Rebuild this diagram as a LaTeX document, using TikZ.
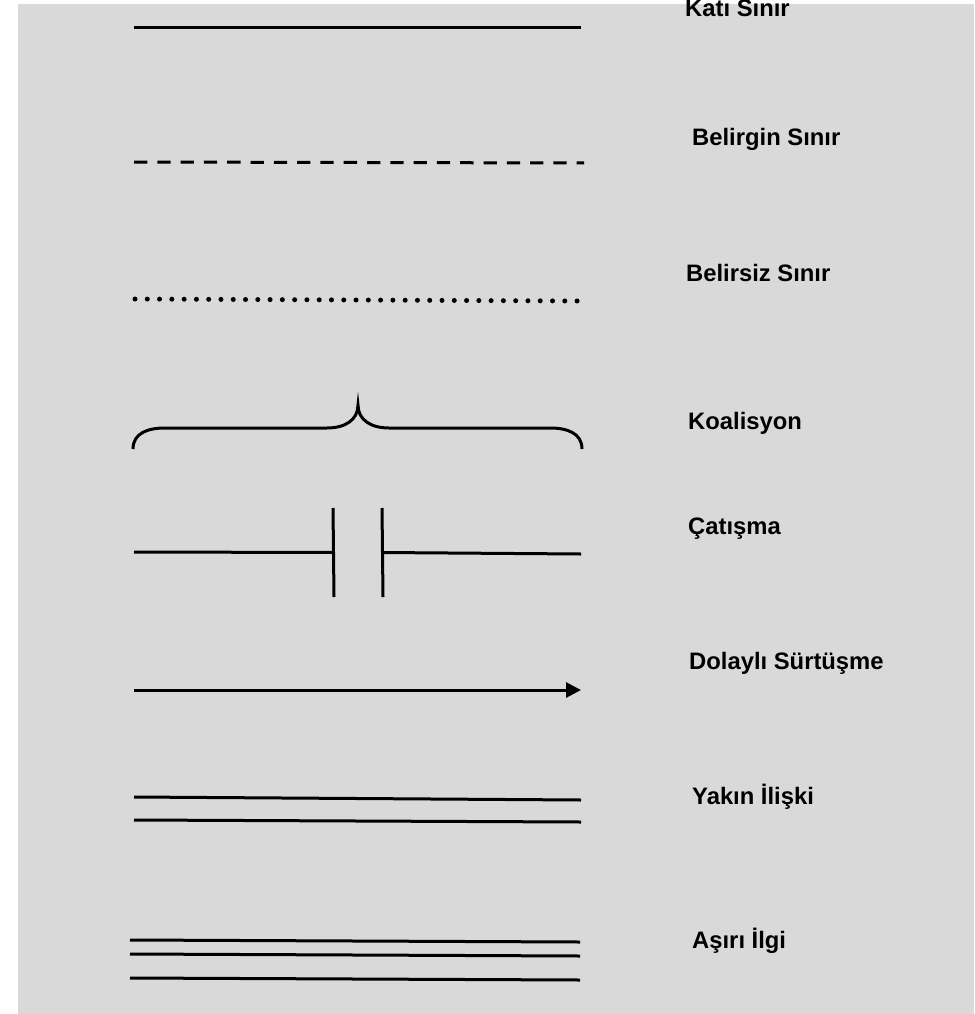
\documentclass[tikz,border=0pt]{standalone}
\usepackage{fontspec}
\setmainfont{Liberation Sans}
\definecolor{legendgray}{HTML}{D9D9D9}
\usepackage{tikz}
\usetikzlibrary{arrows.meta,calc}

\begin{document}
\begin{tikzpicture}[x=1pt, y=-1pt,
    legendline/.style={line width=3pt},
    legendtext/.style={anchor=base west, inner sep=0pt, font=\fontsize{23.8}{28}\selectfont\bfseries}]
      \useasboundingbox (0,0) rectangle (974,1014);
      \fill [legendgray] (18,4) rectangle (974,1014);

      % uc noktalari
      \coordinate (kati-a) at (134,28);      \coordinate (kati-b) at (581,28);
      \coordinate (belirgin-a) at (134,162); \coordinate (belirgin-b) at (584,163);
      \coordinate (belirsiz-a) at (135,299); \coordinate (belirsiz-b) at (578,301);
      \coordinate (cat-a) at (134,552);      \coordinate (cat-b) at (581,554);
      \coordinate (dolayli-a) at (134,690);  \coordinate (dolayli-b) at (581,690);

      % etiketler
      \node (lbl-kati) [legendtext] at (685,17) {Katı Sınır};
      \node (lbl-belirgin) [legendtext] at (692,146) {Belirgin Sınır};
      \node (lbl-belirsiz) [legendtext] at (686,281) {Belirsiz Sınır};
      \node (lbl-koalisyon) [legendtext] at (688,429) {Koalisyon};
      \node (lbl-catisma) [legendtext] at (688,534) {Çatışma};
      \node (lbl-dolayli) [legendtext] at (689,669) {Dolaylı Sürtüşme};
      \node (lbl-yakin) [legendtext] at (692,804) {Yakın İlişki};
      \node (lbl-asiri) [legendtext] at (692,948) {Aşırı İlgi};

      \draw [legendline] (kati-a) -- (kati-b);
      \draw [legendline, dash pattern=on 13.3pt off 10pt] (belirgin-a) -- (belirgin-b);
      \draw [line width=5pt, line cap=round, dash pattern=on 0pt off 12.28pt] (belirsiz-a) -- (belirsiz-b);

      % koalisyon
      \draw [legendline] (133,449) .. controls (133,433) and (148,428) .. (165,428) -- (327,428)
            .. controls (345,428) and (358,420) .. (358,405)
            .. controls (358,420) and (371,428) .. (389,428) -- (550,428)
            .. controls (567,428) and (582,433) .. (582,449);

      % catisma
      \coordinate (cat-l1) at (333,508); \coordinate (cat-l2) at (334,597);
      \coordinate (cat-r1) at (382,508); \coordinate (cat-r2) at (383,597);
      \draw [legendline] (cat-a) -- ($(cat-l1)!0.5!(cat-l2)$);
      \draw [legendline] (cat-l1) -- (cat-l2);
      \draw [legendline] (cat-r1) -- (cat-r2);
      \draw [legendline] ($(cat-r1)!0.5!(cat-r2)$) -- (cat-b);

      \draw [legendline, -{Triangle[length=15pt, width=15pt]}] (dolayli-a) -- (dolayli-b);

      % yakin iliski
      \draw [legendline] (134,797) -- (581,800);
      \draw [legendline] (134,820) -- (581,822);

      % asiri ilgi
      \draw [legendline] (130,940) -- (580,942);
      \draw [legendline] (130,954) -- (580,956);
      \draw [legendline] (130,978) -- (580,980);
    \end{tikzpicture}
\end{document}
